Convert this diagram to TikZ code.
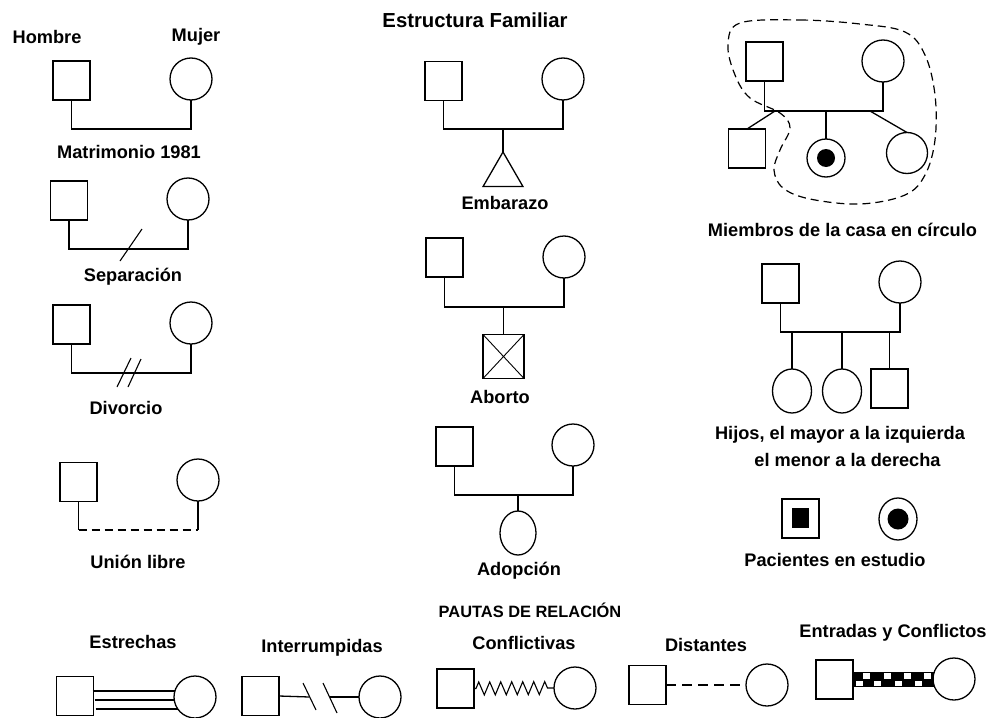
\documentclass[tikz,border=0pt]{standalone}
\usepackage{fontspec}
\setmainfont{Liberation Sans}
\usetikzlibrary{shapes.geometric,decorations.pathmorphing,calc}
\begin{document}
\begin{tikzpicture}[x=1pt,y=-1pt,
  male/.style={draw, line width=1.3pt, minimum width=37pt, minimum height=39pt, inner sep=0pt, outer sep=0pt},
  fem/.style={draw, circle, line width=1.3pt, minimum size=42pt, inner sep=0pt, outer sep=0pt},
  kid/.style={draw, ellipse, line width=1.3pt, minimum width=39pt, minimum height=44pt, inner sep=0pt, outer sep=0pt},
  lbl/.style={font=\fontsize{18.2}{20}\selectfont\bfseries, inner sep=0pt},
  conn/.style={line width=1.3pt},
  dot/.style={circle, fill=black, inner sep=0pt},
  household/.style={line width=1.2pt, dash pattern=on 8pt off 5pt}
]
\useasboundingbox (0,0) rectangle (1000,717);

% ---------- Left column ----------
\node[lbl] (tHombre) at (47,37) {Hombre};
\node[lbl] (tMujer) at (196,37) {Mujer};
\node[male] (h1) at (71.5,80.5) {};
\node[fem] (w1) at (191,79) {};
\coordinate (j1) at (130,129);
\draw[conn] (h1.south) |- (j1) -| (w1.south);
\node[lbl] (tMat) at (129,152) {Matrimonio 1981};

\node[male] (h2) at (69,200.5) {};
\node[fem] (w2) at (188,199) {};
\coordinate (j2) at (130,249);
\draw[conn] (h2.south) |- (j2) -| (w2.south);
\draw[line width=1.1pt] (120,261) -- (142,229);
\node[lbl] (tSep) at (133,277) {Separación};

\node[male] (h3) at (71.5,324.5) {};
\node[fem] (w3) at (191,323) {};
\coordinate (j3) at (130,373);
\draw[conn] (h3.south) |- (j3) -| (w3.south);
\draw[line width=1.1pt] (117,387) -- (131,358);
\draw[line width=1.1pt] (128,387) -- (141,359);
\node[lbl] (tDiv) at (126,408) {Divorcio};

\node[male] (h4) at (78.5,482) {};
\node[fem] (w4) at (198,480) {};
\coordinate (j4) at (138,530);
\draw[conn] (h4.south) -- (h4.south |- j4);
\draw[conn, dash pattern=on 8pt off 5pt] (h4.south |- j4) -- (w4.south |- j4);
\draw[conn] (w4.south |- j4) -- (w4.south);
\node[lbl] (tUni) at (138,562) {Unión libre};

% ---------- Middle column ----------
\node[font=\fontsize{20.3}{22}\selectfont\bfseries, inner sep=0pt] (title) at (475,20) {Estructura Familiar};

\node[male] (h5) at (443.5,81) {};
\node[fem] (w5) at (563,79) {};
\coordinate (j5) at (503,129);
\draw[conn] (h5.south) |- (j5) -| (w5.south);
\node[draw, regular polygon, regular polygon sides=3, minimum size=46pt, inner sep=0pt, outer sep=0pt, line width=1.3pt] (emb) at (503,175) {};
\draw[conn] (j5) -- (emb.corner 1);
\node[lbl] (tEmb) at (505,203) {Embarazo};

\node[male] (h6) at (444.5,257.5) {};
\node[fem] (w6) at (564,257) {};
\coordinate (j6) at (503.5,307);
\draw[conn] (h6.south) |- (j6) -| (w6.south);
\node[draw, line width=1.3pt, minimum width=41pt, minimum height=44pt, inner sep=0pt, outer sep=0pt] (ab) at (503.5,356.5) {};
\draw[line width=0.9pt] (ab.north west) -- (ab.south east) (ab.north east) -- (ab.south west);
\draw[conn] (j6) -- (ab.north);
\node[lbl] (tAb) at (500,397) {Aborto};

\node[male] (h7) at (454.5,446.5) {};
\node[fem] (w7) at (573,445) {};
\coordinate (j7) at (518,495);
\draw[conn] (h7.south) |- (j7) -| (w7.south);
\node[draw, ellipse, line width=1.3pt, minimum width=36pt, minimum height=44pt, inner sep=0pt, outer sep=0pt] (ad) at (518,533) {};
\draw[conn] (j7) -- (ad.north);
\node[lbl] (tAd) at (519,571) {Adopción};

% ---------- Right column: household ----------
\node[male] (hf) at (764.5,61.5) {};
\node[fem] (hm) at (883,61) {};
\coordinate (j8) at (826,111);
\draw[conn] (hf.south) |- (j8) -| (hm.south);
\node[male] (c1) at (747,148.5) {};
\node[draw, circle, line width=1.3pt, minimum size=38pt, inner sep=0pt, outer sep=0pt] (c2) at (826,158) {};
\node[dot, minimum size=18pt] (c2d) at (826,158) {};
\node[draw, circle, line width=1.3pt, minimum size=41pt, inner sep=0pt, outer sep=0pt] (c3) at (907,153) {};
\coordinate (j8a) at (775,111);
\coordinate (j8c) at (870,111);
\draw[conn] (j8a) -- (c1.north);
\draw[conn] (j8) -- (c2.north);
\draw[conn] (j8c) -- (c3.north);
\draw[household] plot[smooth cycle, tension=0.6] coordinates {
  (740,23) (800,20) (860,24) (905,32) (925,55) (935,95) (935,140) (925,175)
  (905,195) (860,204) (810,199) (783,188) (774,170) (780,150) (790,128)
  (780,113) (750,98) (735,75) (728,45)};
\node[lbl] (tMie) at (842.5,230) {Miembros de la casa en círculo};

% ---------- Right column: children order ----------
\node[male] (pf) at (780.5,283.5) {};
\node[fem] (pm) at (900,282) {};
\coordinate (j9) at (842,332);
\draw[conn] (pf.south) |- (j9) -| (pm.south);
\node[kid] (k1) at (792,391) {};
\node[kid] (k2) at (842,391) {};
\node[male] (k3) at (889.5,388.5) {};
\draw[conn] (k1.north |- j9) -- (k1.north);
\draw[conn] (j9) -- (k2.north);
\draw[conn] (k3.north |- j9) -- (k3.north);
\node[lbl] (tHij1) at (840,435) {Hijos, el mayor a la izquierda};
\node[lbl] (tHij2) at (847.5,460) {el menor a la derecha};

% ---------- Patients ----------
\node[male] (ps) at (800.5,518.5) {};
\node[fill=black, minimum width=17pt, minimum height=20pt, inner sep=0pt] (psi) at (800.5,517.5) {};
\node[draw, ellipse, line width=1.3pt, minimum width=38pt, minimum height=42pt, inner sep=0pt] (pc) at (898,519) {};
\node[dot, minimum size=21pt] (pci) at (898,519) {};
\node[lbl] (tPac) at (835,560) {Pacientes en estudio};

% ---------- Bottom: relationship patterns ----------
\node[font=\fontsize{16.4}{18}\selectfont\bfseries, inner sep=0pt] (tPau) at (530,610) {PAUTAS DE RELACIÓN};

\node[lbl] (tEst) at (133,642) {Estrechas};
\node[male] (es) at (75,696) {};
\node[fem] (ec) at (195,697) {};
\draw[line width=1.2pt] ([yshift=5pt,xshift=-1pt]es.east) -- ([yshift=6pt,xshift=1pt]ec.west);
\draw[line width=1.2pt] ([yshift=-4pt,xshift=1pt]es.east) -- ([yshift=-3pt]ec.west);
\draw[line width=1.2pt] ([yshift=-13pt,xshift=2pt]es.east) -- ([yshift=-12pt,xshift=3.5pt]ec.west);

\node[lbl] (tInt) at (322,648) {Interrumpidas};
\node[male] (is) at (260.5,696) {};
\node[fem] (ic) at (380,697) {};
\coordinate (is1) at (309.5,697);
\coordinate (is2) at (330,697);
\draw[conn] (is.east) -- (is1);
\draw[conn] (is2) -- (ic.west);
\draw[line width=1.1pt] (303,683) -- (316,710);
\draw[line width=1.1pt] (323,683) -- (337,713);

\node[lbl] (tCon) at (524,643) {Conflictivas};
\node[male] (cs) at (455.5,688.5) {};
\node[fem] (cc) at (575,688) {};
\draw[line width=1.1pt, decorate, decoration={zigzag, segment length=11pt, amplitude=6.5pt, pre length=2pt, post length=2pt}] (cs.east) -- (cc.west);

\node[lbl] (tDis) at (706,645) {Distantes};
\node[male] (ds) at (647.5,685) {};
\node[fem] (dc) at (767,685) {};
\draw[conn, dash pattern=on 10pt off 6pt] (ds.east) -- (dc.west);

\node[lbl] (tEnt) at (893,633) {Entradas y Conflictos};
\node[male] (ns) at (834.5,679.5) {};
\node[fem] (nc) at (954,679) {};
\fill[black] ([yshift=8pt]ns.east) rectangle ([yshift=-8pt,xshift=1pt]nc.west);
\foreach \x in {863,884,904,924} \fill[white] (\x,673) rectangle ++(7,5.5);
\foreach \x in {856,874,895,915} \fill[white] (\x,680.5) rectangle ++(7,5.5);
\end{tikzpicture}
\end{document}
